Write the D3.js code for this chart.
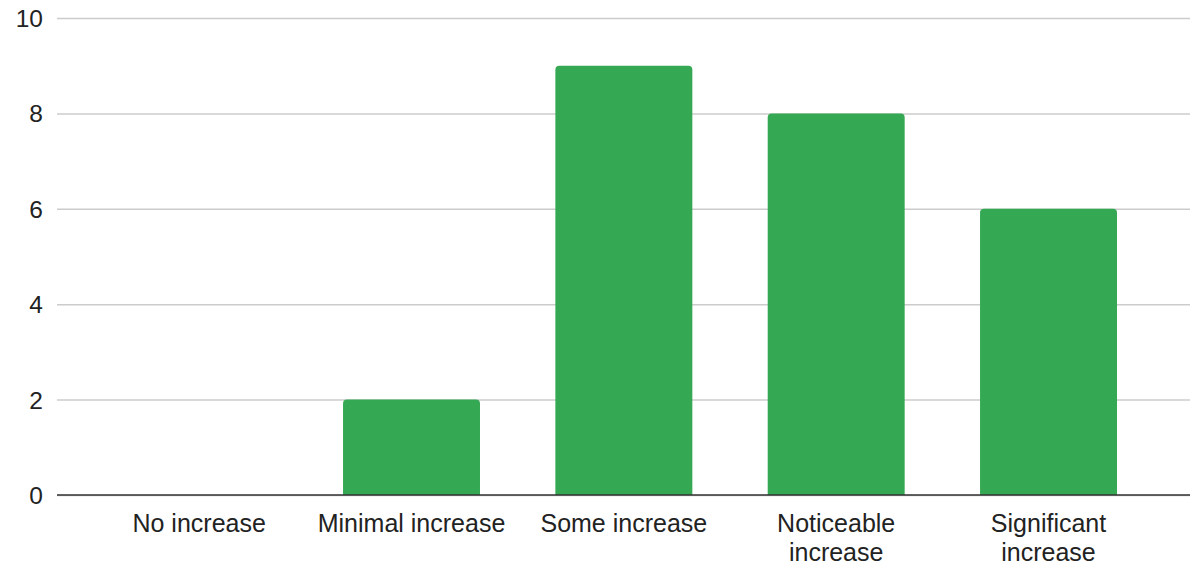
<!DOCTYPE html>
<html>
<head>
<meta charset="utf-8">
<script src="https://cdn.jsdelivr.net/npm/d3@7"></script>
<style>
  html, body { margin: 0; padding: 0; background: #fff; }
  svg { display: block; }
  text { font-family: Arial, "Liberation Sans", sans-serif; fill: #222; }
</style>
</head>
<body>
<svg id="chart" width="1193" height="566"></svg>
<script>
const categories = ["No increase", "Minimal increase", "Some increase", "Noticeable increase", "Significant increase"];
const values = [0, 2, 9, 8, 6];
const yTicks = [0, 2, 4, 6, 8, 10];

const W = 1193, H = 566;
const gridLeft = 57, gridRight = 1190;
const plotTop = 18, plotBottom = 495;
const bandLeft = 93, bandRight = 1154.7;

const svg = d3.select("#chart");

const x = d3.scaleBand()
  .domain(categories)
  .range([bandLeft, bandRight])
  .paddingInner(0.355)
  .paddingOuter(0.1775);

const y = d3.scaleLinear()
  .domain([0, 10])
  .range([plotBottom, plotTop]);

// gridlines
const yAxis = d3.axisLeft(y)
  .tickValues(yTicks)
  .tickSize(-(gridRight - gridLeft))
  .tickPadding(14)
  .tickFormat(d3.format("d"));

const gY = svg.append("g")
  .attr("transform", `translate(${gridLeft},0)`)
  .call(yAxis);
gY.select(".domain").remove();
gY.selectAll(".tick line")
  .attr("stroke", "#cccccc")
  .attr("stroke-width", 1.5);
gY.selectAll(".tick text")
  .attr("font-size", 24.5)
  .attr("fill", "#1a1a1a")
  .attr("dy", "0.35em")
  .style("font-family", "Arial, 'Liberation Sans', sans-serif");

// bars with rounded top corners
function barPath(x0, w, yTop, yBot, r) {
  const h = yBot - yTop;
  if (h <= 0) return "";
  r = Math.min(r, h, w / 2);
  return `M${x0},${yBot}V${yTop + r}Q${x0},${yTop} ${x0 + r},${yTop}H${x0 + w - r}Q${x0 + w},${yTop} ${x0 + w},${yTop + r}V${yBot}Z`;
}

svg.append("g")
  .selectAll("path")
  .data(categories.map((c, i) => ({ c, v: values[i] })))
  .join("path")
  .attr("fill", "#34a853")
  .attr("d", d => barPath(x(d.c), x.bandwidth(), y(d.v), y(0), 4));

// baseline axis
svg.append("line")
  .attr("x1", gridLeft).attr("x2", gridRight)
  .attr("y1", y(0)).attr("y2", y(0))
  .attr("stroke", "#333")
  .attr("stroke-width", 1.5);

// x labels with wrapping
const xAxisG = svg.append("g");
const maxW = 200;
const baseY = 531.5, lineH = 29;
categories.forEach(c => {
  const cx = x(c) + x.bandwidth() / 2;
  const t = xAxisG.append("text")
    .attr("text-anchor", "middle")
    .attr("font-size", 25)
    .attr("fill", "#1a1a1a")
    .attr("x", cx)
    .attr("y", baseY);
  const words = c.split(" ");
  let line = [];
  let lineNo = 0;
  let tspan = t.append("tspan").attr("x", cx).attr("y", baseY);
  words.forEach(w => {
    line.push(w);
    tspan.text(line.join(" "));
    if (tspan.node().getComputedTextLength() > maxW && line.length > 1) {
      line.pop();
      tspan.text(line.join(" "));
      line = [w];
      lineNo++;
      tspan = t.append("tspan").attr("x", cx).attr("y", baseY + lineNo * lineH).text(w);
    }
  });
});
</script>
</body>
</html>
